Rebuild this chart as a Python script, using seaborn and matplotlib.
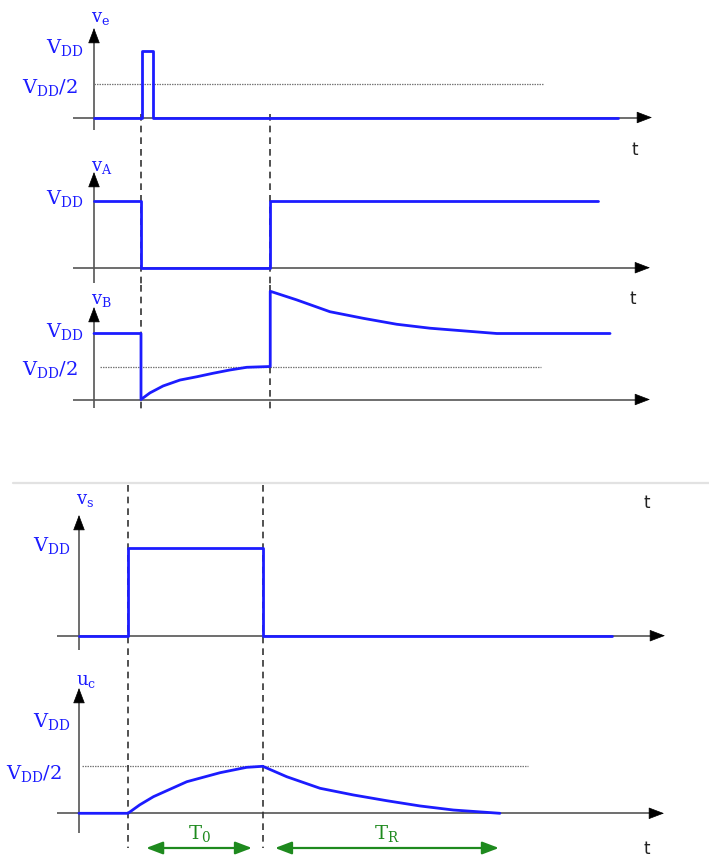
import matplotlib
matplotlib.use("Agg")
import matplotlib.pyplot as plt
import pandas as pd
import seaborn as sns

sns.set_style("white")
plt.rcParams["font.family"] = ["DejaVu Serif", "DejaVu Sans"]

# ---------------------------------------------------------------------------
# Waveforms: time in units of the trigger instant, voltage in units of VDD
# ---------------------------------------------------------------------------
T1 = 1.0     # trigger edge
T2 = 3.75    # end of the output pulse

ve_t = [0.0, 1.02, 1.02, 1.25, 1.25, 11.15]
ve_v = [0.0, 0.0, 1.0, 1.0, 0.0, 0.0]

va_t = [0.0, T1, T1, T2, T2, 10.72]
va_v = [1.0, 1.0, 0.0, 0.0, 1.0, 1.0]

vb_t = [0.0, T1, T1, 1.19, 1.47, 1.83, 2.19, 2.53, 2.89, 3.25, T2,
        T2, 4.31, 5.02, 5.73, 6.44, 7.15, 7.86, 8.57, 10.98]
vb_v = [1.0, 1.0, 0.0, 0.10, 0.205, 0.295, 0.345, 0.397, 0.447, 0.488, 0.50,
        1.64, 1.51, 1.33, 1.23, 1.14, 1.08, 1.04, 1.00, 1.00]

vs_t = [0.0, T1, T1, T2, T2, 10.88]
vs_v = [0.0, 0.0, 1.0, 1.0, 0.0, 0.0]

uc_t = [0.0, T1, 1.24, 1.52, 2.20, 2.88, 3.42, T2,
        4.24, 4.92, 5.60, 6.28, 6.96, 7.64, 8.32, 8.59]
uc_v = [0.0, 0.0, 0.09, 0.177, 0.336, 0.432, 0.489, 0.50,
        0.389, 0.266, 0.195, 0.134, 0.078, 0.035, 0.010, 0.0]

T0_span = (1.37, 3.53)
TR_span = (4.00, 8.57)

# ---------------------------------------------------------------------------
W, H = 709, 861
BLUE = "#1c1cff"
GREEN = "#1e8a1e"
AXIS = "#555555"

fig = plt.figure(figsize=(W / 100, H / 100), dpi=100)


class Panel:
    """One trace of the timing diagram, laid out on the pixel grid."""

    def __init__(self, x0, sx, base, h, top, bottom):
        self.x0, self.sx, self.base, self.h = x0, sx, base, h
        self.ax = fig.add_axes([0, 1 - bottom / H, 1, (bottom - top) / H])
        self.ax.set_xlim(-x0 / sx, (W - x0) / sx)
        self.ax.set_ylim((base - bottom) / h, (base - top) / h)
        self.ax.set_axis_off()

    def tx(self, x):
        return (x - self.x0) / self.sx

    def vy(self, y):
        return (self.base - y) / self.h

    def axes_lines(self, x_start, x_tip, y_bottom, y_tip):
        ax = self.ax
        ax.plot([self.tx(x_start), self.tx(x_tip - 6)], [0, 0],
                color=AXIS, lw=1.2, zorder=1, solid_capstyle="butt")
        ax.plot([0, 0], [self.vy(y_bottom), self.vy(y_tip + 6)],
                color=AXIS, lw=1.2, zorder=1, solid_capstyle="butt")
        head = dict(arrowstyle="-|>,head_length=1.0,head_width=0.38",
                    color="black", lw=0.5, shrinkA=0, shrinkB=0,
                    mutation_scale=10)
        ax.annotate("", xy=(self.tx(x_tip), 0),
                    xytext=(self.tx(x_tip - 12), 0),
                    arrowprops=head, annotation_clip=False)
        ax.annotate("", xy=(0, self.vy(y_tip)),
                    xytext=(0, self.vy(y_tip + 12)),
                    arrowprops=head, annotation_clip=False)

    def trace(self, t, v):
        df = pd.DataFrame({"t": t, "v": v})
        sns.lineplot(data=df, x="t", y="v", ax=self.ax, sort=False,
                     estimator=None, color=BLUE, lw=2.0, zorder=3,
                     legend=False)
        self.ax.set_axis_off()

    def dotted(self, t0, t1, level=0.5):
        self.ax.plot([t0, t1], [level, level], color="#777777", lw=0.9,
                     ls=(0, (1.2, 0.8)), zorder=2)

    def dashed(self, t, y_top, y_bot):
        self.ax.plot([t, t], [self.vy(y_top), self.vy(y_bot)],
                     color="#333333", lw=1.2, ls=(0, (4, 3)), zorder=2,
                     clip_on=False)

    def label(self, x, y, s, color=BLUE, size=14, ha="right", **kw):
        self.ax.text(self.tx(x), self.vy(y), s, color=color, fontsize=size,
                     ha=ha, va="center", clip_on=False, **kw)

    def tlabel(self, x, y):
        self.ax.text(self.tx(x), self.vy(y), "t", color="#222222",
                     fontsize=12, ha="center", va="center",
                     family="DejaVu Sans")


VDD = r"$\mathregular{V_{DD}}$"
VDD2 = r"$\mathregular{V_{DD}/2}$"

# ---------------- v_e ----------------
pe = Panel(94, 47, 117.5, 66.5, 0, 160)
pe.axes_lines(73, 652, 130, 28)
pe.dotted(0.0, pe.tx(543))
pe.trace(ve_t, ve_v)
pe.dashed(T1, 114, 160)
pe.dashed(T2, 114, 160)
pe.label(84, 48, VDD)
pe.label(78, 87, VDD2)
pe.label(91, 18, r"$\mathregular{v_e}$", size=13, ha="left")
pe.tlabel(635, 150)

# ---------------- v_A ----------------
pa = Panel(94, 47, 267.7, 67, 160, 285)
pa.axes_lines(73, 650, 283, 172)
pa.trace(va_t, va_v)
pa.dashed(T1, 160, 285)
pa.dashed(T2, 160, 285)
pa.label(84, 199, VDD)
pa.label(91, 167, r"$\mathregular{v_A}$", size=13, ha="left")
pa.tlabel(633, 299)

# ---------------- v_B ----------------
pb = Panel(94, 47, 399.5, 66, 285, 483)
pb.axes_lines(73, 650, 408, 307)
pb.dotted(pb.tx(100), pb.tx(541))
pb.trace(vb_t, vb_v)
pb.dashed(T1, 285, 410)
pb.dashed(T2, 285, 410)
pb.label(84, 332, VDD)
pb.label(78, 370, VDD2)
pb.label(91, 300, r"$\mathregular{v_B}$", size=13, ha="left")

# separator between the two groups
fig.add_artist(plt.Line2D([13 / W, 1], [1 - 483 / H] * 2,
                          color="#e2e2e2", lw=1.6))

# ---------------- v_s ----------------
ps = Panel(79, 49, 635.7, 88, 483, 660)
ps.axes_lines(57, 665, 650, 515)
ps.trace(vs_t, vs_v)
ps.dashed(T1, 485, 660)
ps.dashed(T2, 485, 660)
ps.label(71, 546, VDD)
ps.label(76, 500, r"$\mathregular{v_s}$", size=13, ha="left")
ps.tlabel(647, 503)

# ---------------- u_c ----------------
pu = Panel(79, 49, 813.3, 94, 660, 861)
pu.axes_lines(57, 664, 833, 688)
pu.dotted(pu.tx(82), pu.tx(528))
pu.trace(uc_t, uc_v)
pu.dashed(T1, 660, 848)
pu.dashed(T2, 660, 848)
pu.label(71, 721, VDD)
pu.label(62, 773, VDD2)
pu.label(76, 681, r"$\mathregular{u_c}$", size=13, ha="left")
pu.tlabel(647, 849)

arrow_kw = dict(arrowstyle="<|-|>,head_length=1.0,head_width=0.38",
                color=GREEN, lw=1.6, shrinkA=0, shrinkB=0,
                mutation_scale=10)
y_arr = pu.vy(848)
for (a, b), name in [(T0_span, r"$\mathregular{T_0}$"),
                     (TR_span, r"$\mathregular{T_R}$")]:
    pu.ax.annotate("", xy=(b, y_arr), xytext=(a, y_arr),
                   arrowprops=arrow_kw, annotation_clip=False)
    pu.ax.text((a + b) / 2, pu.vy(834), name, color=GREEN, fontsize=14,
               ha="center", va="center")

fig.savefig("out.png", dpi=100)
